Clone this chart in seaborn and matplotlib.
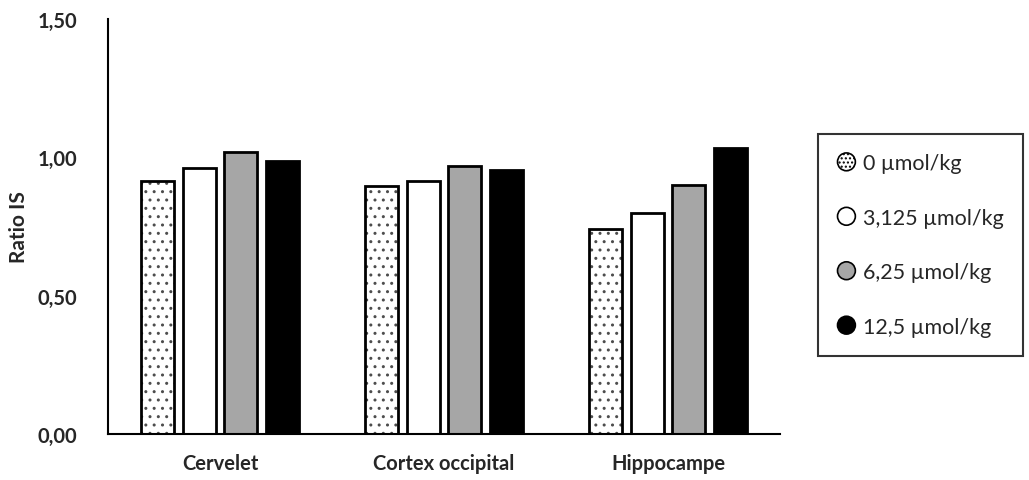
import pandas as pd
import matplotlib.pyplot as plt
import seaborn as sns
from matplotlib.patches import Circle, Patch
from matplotlib.legend_handler import HandlerPatch

# Data
regions = ['Cervelet', 'Cortex occipital', 'Hippocampe']
doses = ['0 µmol/kg', '3,125 µmol/kg', '6,25 µmol/kg', '12,5 µmol/kg']
ratio_0 = [0.915, 0.895, 0.74]
ratio_3125 = [0.96, 0.915, 0.80]
ratio_625 = [1.02, 0.97, 0.90]
ratio_125 = [0.985, 0.955, 1.035]

df = pd.DataFrame({
    'region': regions * 4,
    'dose': [d for d in doses for _ in regions],
    'ratio': ratio_0 + ratio_3125 + ratio_625 + ratio_125,
})

colors = ['white', 'white', '#a6a6a6', 'black']

sns.set_theme(style="white")
plt.rcParams['font.family'] = ['Lato', 'DejaVu Sans']
plt.rcParams['hatch.linewidth'] = 1.0

fig, ax = plt.subplots(figsize=(10.29, 4.81), dpi=100)
sns.barplot(data=df, x='region', y='ratio', hue='dose', hue_order=doses,
            palette=colors, width=0.74, gap=0.2, edgecolor='black',
            linewidth=2, ax=ax, legend=False)

# dotted fill for the first dose
for bar in ax.containers[0]:
    bar.set_hatch('..')
    bar.set_edgecolor('black')
    bar._hatch_color = (0.3, 0.3, 0.3, 1)

ax.set_ylim(0, 1.5)
ax.set_yticks([0, 0.5, 1.0, 1.5])
ax.set_yticklabels(['0,00', '0,50', '1,00', '1,50'])
ax.set_xlim(-0.5, 2.5)
ax.set_xlabel('')
ax.set_ylabel('Ratio IS', fontsize=15, fontweight='bold')
ax.yaxis.set_label_coords(-0.118, 0.5)
for lab in ax.get_xticklabels() + ax.get_yticklabels():
    lab.set_fontweight('bold')
    lab.set_fontsize(14.5)
ax.tick_params(axis='x', length=0, pad=14)
ax.tick_params(axis='y', length=0, pad=22)
sns.despine(ax=ax)
for s in ['left', 'bottom']:
    ax.spines[s].set_color('black')
    ax.spines[s].set_linewidth(1.5)


class HandlerCircle(HandlerPatch):
    def create_artists(self, legend, orig_handle, xdescent, ydescent,
                       width, height, fontsize, trans):
        r = 0.5 * height + 1
        c = Circle((width - r - 1 - xdescent, height / 2 - ydescent), r,
                   facecolor=orig_handle.get_facecolor(),
                   edgecolor='black', linewidth=1.2,
                   hatch=orig_handle.get_hatch(), transform=trans)
        return [c]


handles = [Patch(facecolor=c, edgecolor='black', hatch=('....' if i == 0 else None))
           for i, c in enumerate(colors)]
leg = fig.legend(handles, doses, loc='upper left',
                 bbox_to_anchor=(818 / 1029, 1 - 135 / 481),
                 handler_map={Patch: HandlerCircle()},
                 frameon=True, fancybox=False, fontsize=15.5,
                 labelspacing=1.6, handlelength=0.9, handletextpad=0.3,
                 borderpad=0.9, borderaxespad=0)
leg.get_frame().set_edgecolor('black')
leg.get_frame().set_linewidth(1.5)

plt.subplots_adjust(left=108 / 1029, right=780 / 1029, top=1 - 20 / 481, bottom=1 - 435 / 481)
plt.savefig('out.png', dpi=100)
